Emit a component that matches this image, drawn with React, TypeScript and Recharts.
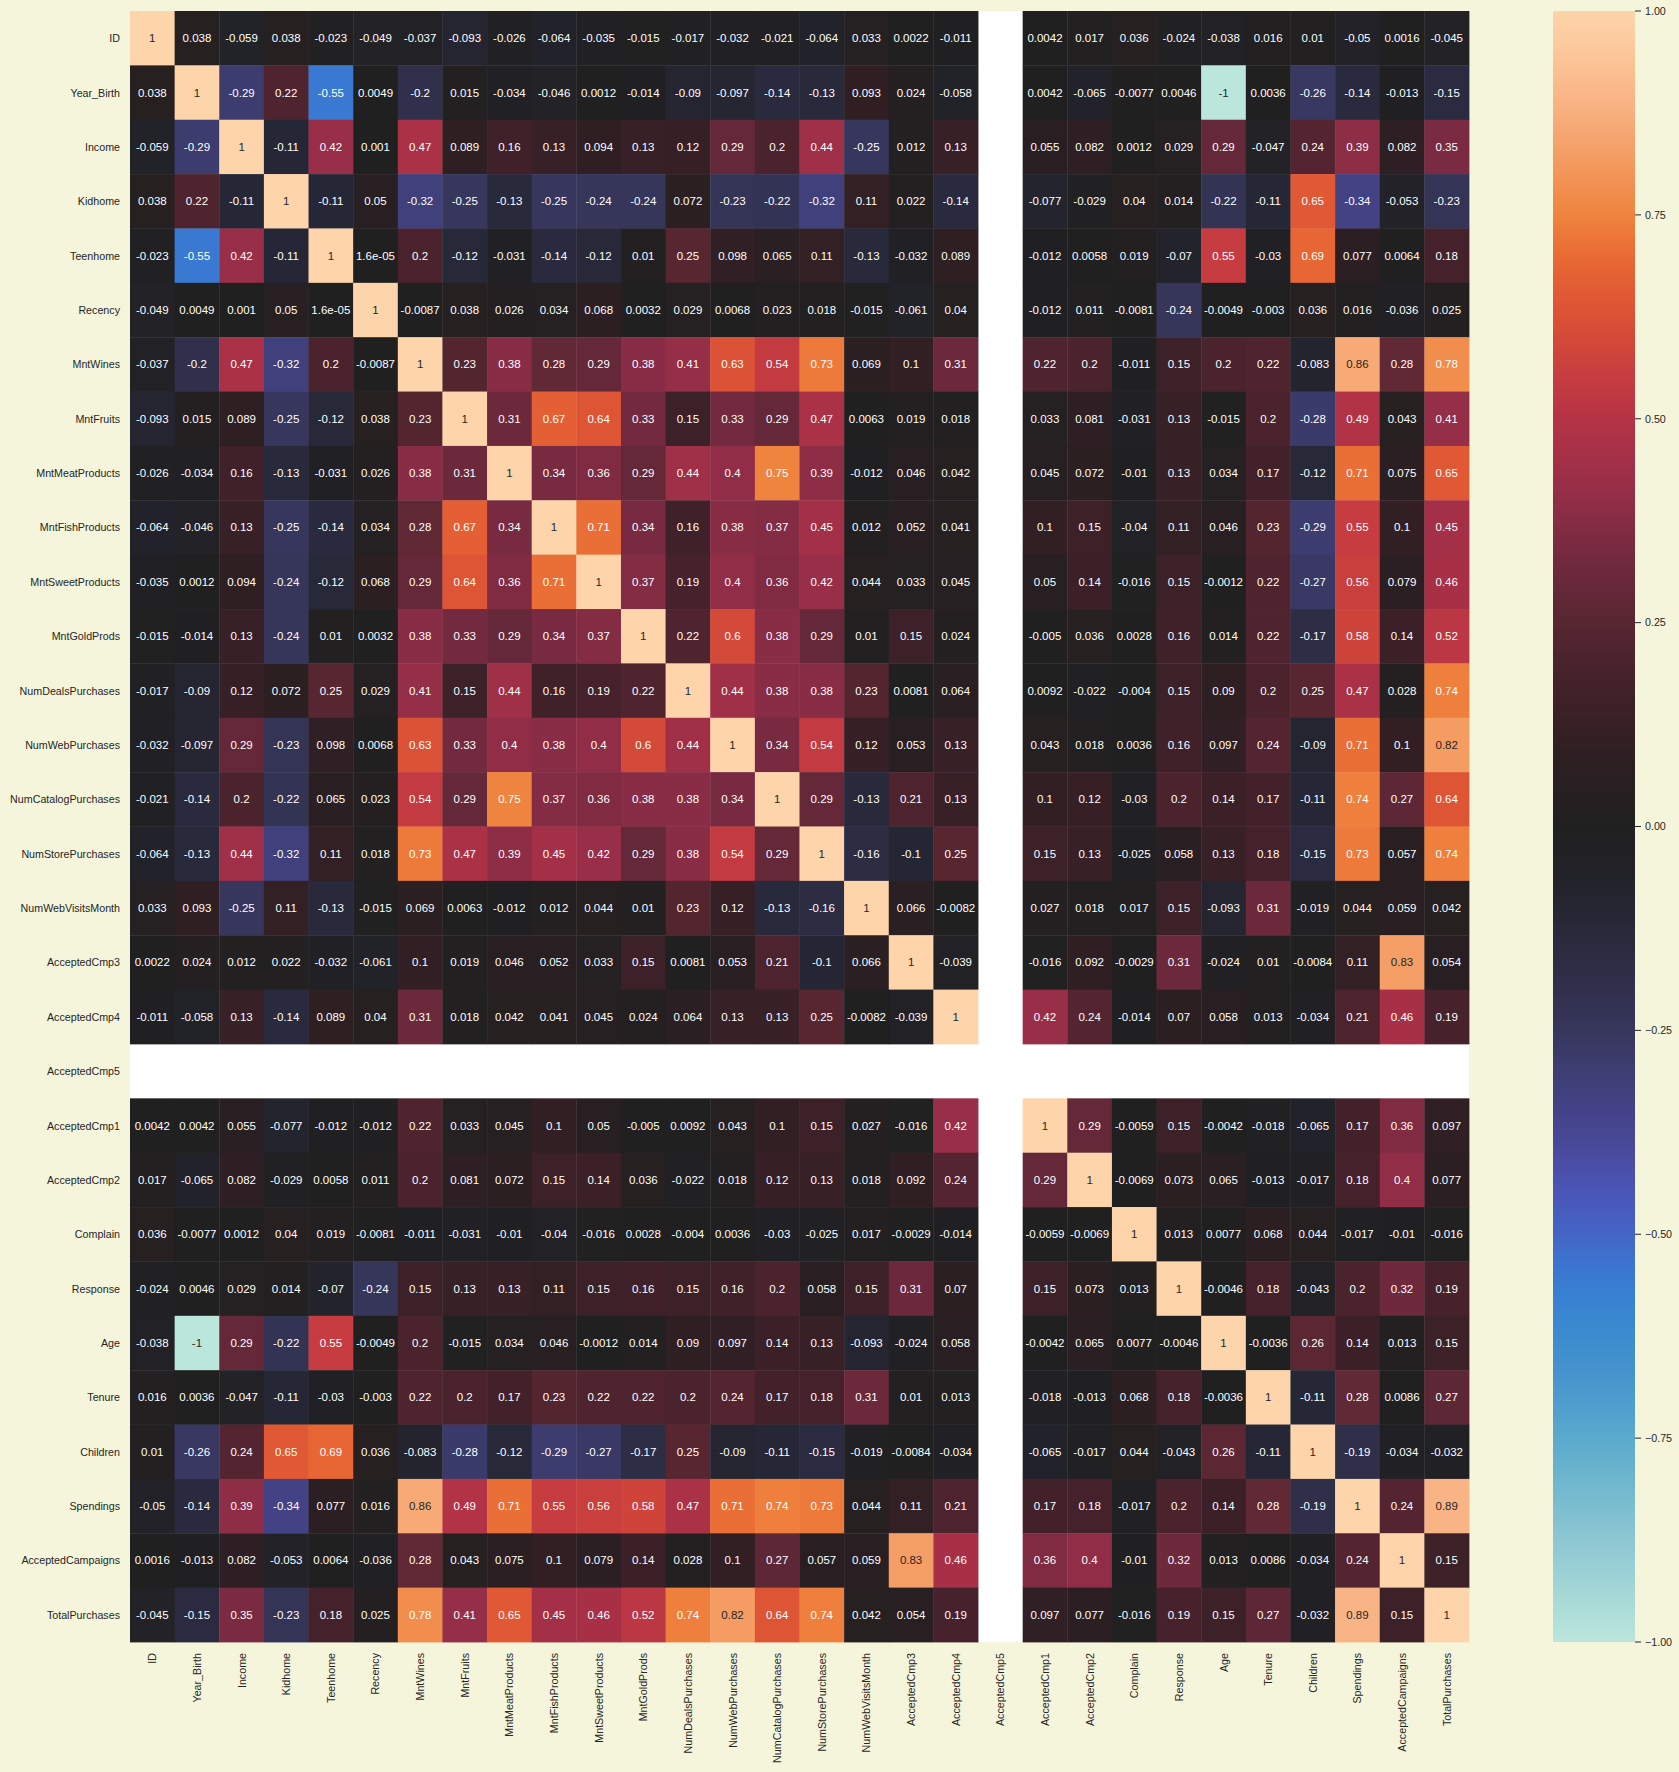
import { ScatterChart, Scatter, XAxis, YAxis, ReferenceArea, BarChart, Bar } from 'recharts'

const LABELS = [
  'ID', 'Year_Birth', 'Income', 'Kidhome', 'Teenhome', 'Recency', 'MntWines', 'MntFruits',
  'MntMeatProducts', 'MntFishProducts', 'MntSweetProducts', 'MntGoldProds', 'NumDealsPurchases',
  'NumWebPurchases', 'NumCatalogPurchases', 'NumStorePurchases', 'NumWebVisitsMonth',
  'AcceptedCmp3', 'AcceptedCmp4', 'AcceptedCmp5', 'AcceptedCmp1', 'AcceptedCmp2', 'Complain',
  'Response', 'Age', 'Tenure', 'Children', 'Spendings', 'AcceptedCampaigns', 'TotalPurchases',
]

// one row per variable, null = NaN (AcceptedCmp5 is constant)
const R_ID = [1, 0.038, -0.059, 0.038, -0.023, -0.049, -0.037, -0.093, -0.026, -0.064, -0.035, -0.015, -0.017, -0.032, -0.021, -0.064, 0.033, 0.0022, -0.011, null, 0.0042, 0.017, 0.036, -0.024, -0.038, 0.016, 0.01, -0.05, 0.0016, -0.045]
const R_YEAR_BIRTH = [0.038, 1, -0.29, 0.22, -0.55, 0.0049, -0.2, 0.015, -0.034, -0.046, 0.0012, -0.014, -0.09, -0.097, -0.14, -0.13, 0.093, 0.024, -0.058, null, 0.0042, -0.065, -0.0077, 0.0046, -1, 0.0036, -0.26, -0.14, -0.013, -0.15]
const R_INCOME = [-0.059, -0.29, 1, -0.11, 0.42, 0.001, 0.47, 0.089, 0.16, 0.13, 0.094, 0.13, 0.12, 0.29, 0.2, 0.44, -0.25, 0.012, 0.13, null, 0.055, 0.082, 0.0012, 0.029, 0.29, -0.047, 0.24, 0.39, 0.082, 0.35]
const R_KIDHOME = [0.038, 0.22, -0.11, 1, -0.11, 0.05, -0.32, -0.25, -0.13, -0.25, -0.24, -0.24, 0.072, -0.23, -0.22, -0.32, 0.11, 0.022, -0.14, null, -0.077, -0.029, 0.04, 0.014, -0.22, -0.11, 0.65, -0.34, -0.053, -0.23]
const R_TEENHOME = [-0.023, -0.55, 0.42, -0.11, 1, 1.6e-5, 0.2, -0.12, -0.031, -0.14, -0.12, 0.01, 0.25, 0.098, 0.065, 0.11, -0.13, -0.032, 0.089, null, -0.012, 0.0058, 0.019, -0.07, 0.55, -0.03, 0.69, 0.077, 0.0064, 0.18]
const R_RECENCY = [-0.049, 0.0049, 0.001, 0.05, 1.6e-5, 1, -0.0087, 0.038, 0.026, 0.034, 0.068, 0.0032, 0.029, 0.0068, 0.023, 0.018, -0.015, -0.061, 0.04, null, -0.012, 0.011, -0.0081, -0.24, -0.0049, -0.003, 0.036, 0.016, -0.036, 0.025]
const R_MNTWINES = [-0.037, -0.2, 0.47, -0.32, 0.2, -0.0087, 1, 0.23, 0.38, 0.28, 0.29, 0.38, 0.41, 0.63, 0.54, 0.73, 0.069, 0.1, 0.31, null, 0.22, 0.2, -0.011, 0.15, 0.2, 0.22, -0.083, 0.86, 0.28, 0.78]
const R_MNTFRUITS = [-0.093, 0.015, 0.089, -0.25, -0.12, 0.038, 0.23, 1, 0.31, 0.67, 0.64, 0.33, 0.15, 0.33, 0.29, 0.47, 0.0063, 0.019, 0.018, null, 0.033, 0.081, -0.031, 0.13, -0.015, 0.2, -0.28, 0.49, 0.043, 0.41]
const R_MNTMEAT = [-0.026, -0.034, 0.16, -0.13, -0.031, 0.026, 0.38, 0.31, 1, 0.34, 0.36, 0.29, 0.44, 0.4, 0.75, 0.39, -0.012, 0.046, 0.042, null, 0.045, 0.072, -0.01, 0.13, 0.034, 0.17, -0.12, 0.71, 0.075, 0.65]
const R_MNTFISH = [-0.064, -0.046, 0.13, -0.25, -0.14, 0.034, 0.28, 0.67, 0.34, 1, 0.71, 0.34, 0.16, 0.38, 0.37, 0.45, 0.012, 0.052, 0.041, null, 0.1, 0.15, -0.04, 0.11, 0.046, 0.23, -0.29, 0.55, 0.1, 0.45]
const R_MNTSWEET = [-0.035, 0.0012, 0.094, -0.24, -0.12, 0.068, 0.29, 0.64, 0.36, 0.71, 1, 0.37, 0.19, 0.4, 0.36, 0.42, 0.044, 0.033, 0.045, null, 0.05, 0.14, -0.016, 0.15, -0.0012, 0.22, -0.27, 0.56, 0.079, 0.46]
const R_MNTGOLD = [-0.015, -0.014, 0.13, -0.24, 0.01, 0.0032, 0.38, 0.33, 0.29, 0.34, 0.37, 1, 0.22, 0.6, 0.38, 0.29, 0.01, 0.15, 0.024, null, -0.005, 0.036, 0.0028, 0.16, 0.014, 0.22, -0.17, 0.58, 0.14, 0.52]
const R_NUMDEALS = [-0.017, -0.09, 0.12, 0.072, 0.25, 0.029, 0.41, 0.15, 0.44, 0.16, 0.19, 0.22, 1, 0.44, 0.38, 0.38, 0.23, 0.0081, 0.064, null, 0.0092, -0.022, -0.004, 0.15, 0.09, 0.2, 0.25, 0.47, 0.028, 0.74]
const R_NUMWEB = [-0.032, -0.097, 0.29, -0.23, 0.098, 0.0068, 0.63, 0.33, 0.4, 0.38, 0.4, 0.6, 0.44, 1, 0.34, 0.54, 0.12, 0.053, 0.13, null, 0.043, 0.018, 0.0036, 0.16, 0.097, 0.24, -0.09, 0.71, 0.1, 0.82]
const R_NUMCATALOG = [-0.021, -0.14, 0.2, -0.22, 0.065, 0.023, 0.54, 0.29, 0.75, 0.37, 0.36, 0.38, 0.38, 0.34, 1, 0.29, -0.13, 0.21, 0.13, null, 0.1, 0.12, -0.03, 0.2, 0.14, 0.17, -0.11, 0.74, 0.27, 0.64]
const R_NUMSTORE = [-0.064, -0.13, 0.44, -0.32, 0.11, 0.018, 0.73, 0.47, 0.39, 0.45, 0.42, 0.29, 0.38, 0.54, 0.29, 1, -0.16, -0.1, 0.25, null, 0.15, 0.13, -0.025, 0.058, 0.13, 0.18, -0.15, 0.73, 0.057, 0.74]
const R_NUMWEBVISITS = [0.033, 0.093, -0.25, 0.11, -0.13, -0.015, 0.069, 0.0063, -0.012, 0.012, 0.044, 0.01, 0.23, 0.12, -0.13, -0.16, 1, 0.066, -0.0082, null, 0.027, 0.018, 0.017, 0.15, -0.093, 0.31, -0.019, 0.044, 0.059, 0.042]
const R_CMP3 = [0.0022, 0.024, 0.012, 0.022, -0.032, -0.061, 0.1, 0.019, 0.046, 0.052, 0.033, 0.15, 0.0081, 0.053, 0.21, -0.1, 0.066, 1, -0.039, null, -0.016, 0.092, -0.0029, 0.31, -0.024, 0.01, -0.0084, 0.11, 0.83, 0.054]
const R_CMP4 = [-0.011, -0.058, 0.13, -0.14, 0.089, 0.04, 0.31, 0.018, 0.042, 0.041, 0.045, 0.024, 0.064, 0.13, 0.13, 0.25, -0.0082, -0.039, 1, null, 0.42, 0.24, -0.014, 0.07, 0.058, 0.013, -0.034, 0.21, 0.46, 0.19]
const R_CMP5 = LABELS.map(() => null)
const R_CMP1 = [0.0042, 0.0042, 0.055, -0.077, -0.012, -0.012, 0.22, 0.033, 0.045, 0.1, 0.05, -0.005, 0.0092, 0.043, 0.1, 0.15, 0.027, -0.016, 0.42, null, 1, 0.29, -0.0059, 0.15, -0.0042, -0.018, -0.065, 0.17, 0.36, 0.097]
const R_CMP2 = [0.017, -0.065, 0.082, -0.029, 0.0058, 0.011, 0.2, 0.081, 0.072, 0.15, 0.14, 0.036, -0.022, 0.018, 0.12, 0.13, 0.018, 0.092, 0.24, null, 0.29, 1, -0.0069, 0.073, 0.065, -0.013, -0.017, 0.18, 0.4, 0.077]
const R_COMPLAIN = [0.036, -0.0077, 0.0012, 0.04, 0.019, -0.0081, -0.011, -0.031, -0.01, -0.04, -0.016, 0.0028, -0.004, 0.0036, -0.03, -0.025, 0.017, -0.0029, -0.014, null, -0.0059, -0.0069, 1, 0.013, 0.0077, 0.068, 0.044, -0.017, -0.01, -0.016]
const R_RESPONSE = [-0.024, 0.0046, 0.029, 0.014, -0.07, -0.24, 0.15, 0.13, 0.13, 0.11, 0.15, 0.16, 0.15, 0.16, 0.2, 0.058, 0.15, 0.31, 0.07, null, 0.15, 0.073, 0.013, 1, -0.0046, 0.18, -0.043, 0.2, 0.32, 0.19]
const R_AGE = [-0.038, -1, 0.29, -0.22, 0.55, -0.0049, 0.2, -0.015, 0.034, 0.046, -0.0012, 0.014, 0.09, 0.097, 0.14, 0.13, -0.093, -0.024, 0.058, null, -0.0042, 0.065, 0.0077, -0.0046, 1, -0.0036, 0.26, 0.14, 0.013, 0.15]
const R_TENURE = [0.016, 0.0036, -0.047, -0.11, -0.03, -0.003, 0.22, 0.2, 0.17, 0.23, 0.22, 0.22, 0.2, 0.24, 0.17, 0.18, 0.31, 0.01, 0.013, null, -0.018, -0.013, 0.068, 0.18, -0.0036, 1, -0.11, 0.28, 0.0086, 0.27]
const R_CHILDREN = [0.01, -0.26, 0.24, 0.65, 0.69, 0.036, -0.083, -0.28, -0.12, -0.29, -0.27, -0.17, 0.25, -0.09, -0.11, -0.15, -0.019, -0.0084, -0.034, null, -0.065, -0.017, 0.044, -0.043, 0.26, -0.11, 1, -0.19, -0.034, -0.032]
const R_SPENDINGS = [-0.05, -0.14, 0.39, -0.34, 0.077, 0.016, 0.86, 0.49, 0.71, 0.55, 0.56, 0.58, 0.47, 0.71, 0.74, 0.73, 0.044, 0.11, 0.21, null, 0.17, 0.18, -0.017, 0.2, 0.14, 0.28, -0.19, 1, 0.24, 0.89]
const R_ACCEPTED = [0.0016, -0.013, 0.082, -0.053, 0.0064, -0.036, 0.28, 0.043, 0.075, 0.1, 0.079, 0.14, 0.028, 0.1, 0.27, 0.057, 0.059, 0.83, 0.46, null, 0.36, 0.4, -0.01, 0.32, 0.013, 0.0086, -0.034, 0.24, 1, 0.15]
const R_TOTALPURCH = [-0.045, -0.15, 0.35, -0.23, 0.18, 0.025, 0.78, 0.41, 0.65, 0.45, 0.46, 0.52, 0.74, 0.82, 0.64, 0.74, 0.042, 0.054, 0.19, null, 0.097, 0.077, -0.016, 0.19, 0.15, 0.27, -0.032, 0.89, 0.15, 1]

const ROWS: (number | null)[][] = [
  R_ID, R_YEAR_BIRTH, R_INCOME, R_KIDHOME, R_TEENHOME, R_RECENCY, R_MNTWINES, R_MNTFRUITS,
  R_MNTMEAT, R_MNTFISH, R_MNTSWEET, R_MNTGOLD, R_NUMDEALS, R_NUMWEB, R_NUMCATALOG, R_NUMSTORE,
  R_NUMWEBVISITS, R_CMP3, R_CMP4, R_CMP5, R_CMP1, R_CMP2, R_COMPLAIN, R_RESPONSE, R_AGE,
  R_TENURE, R_CHILDREN, R_SPENDINGS, R_ACCEPTED, R_TOTALPURCH,
]

const CB_TICKS = [-1, -0.75, -0.5, -0.25, 0, 0.25, 0.5, 0.75, 1]

// rough copy of seaborn's icefire, sampled from the colorbar
const ICEFIRE: [number, string][] = [
  [-1, '#bbe6dc'], [-0.95, '#a8dad7'], [-0.88, '#8fc8d3'], [-0.81, '#72b8ce'],
  [-0.75, '#5aaacd'], [-0.68, '#4796cd'], [-0.62, '#3b8ace'], [-0.58, '#3782d2'],
  [-0.54, '#3b76d0'], [-0.5, '#4465c6'], [-0.45, '#4a56b8'], [-0.41, '#4b4ca3'],
  [-0.36, '#45448d'], [-0.31, '#3f3f78'], [-0.25, '#37365d'], [-0.19, '#2f2f4a'],
  [-0.12, '#272838'], [-0.06, '#222229'], [0, '#202020'], [0.09, '#2e1f23'],
  [0.17, '#42212a'], [0.25, '#572631'], [0.29, '#642838'], [0.34, '#772a40'],
  [0.39, '#8d2d46'], [0.44, '#a02f48'], [0.5, '#b53346'], [0.55, '#c63c40'],
  [0.6, '#d44a38'], [0.65, '#e05834'], [0.7, '#e96a34'], [0.75, '#ef843f'],
  [0.82, '#f49c62'], [0.885, '#f9b283'], [0.95, '#fcc79a'], [1, '#fed4ab'],
]

const W = 1679
const H = 1772
const PLOT = { left: 130, top: 11, right: 1469, bottom: 1642 }
const CELL_W = (PLOT.right - PLOT.left) / LABELS.length
const CELL_H = (PLOT.bottom - PLOT.top) / LABELS.length
const CB_PAD = 12
const FONT = '"Liberation Sans", Arial, sans-serif'
const INK = '#262626'

function hexToRgb(h: string) {
  return [1, 3, 5].map((i) => parseInt(h.slice(i, i + 2), 16))
}

function cmap(v: number) {
  for (let k = 1; k < ICEFIRE.length; k++) {
    const [v1, c1] = ICEFIRE[k]
    if (v <= v1) {
      const [v0, c0] = ICEFIRE[k - 1]
      const t = (v - v0) / (v1 - v0)
      const a = hexToRgb(c0)
      const b = hexToRgb(c1)
      return a.map((x, i) => Math.round(x + (b[i] - x) * t))
    }
  }
  return hexToRgb(ICEFIRE[ICEFIRE.length - 1][1])
}

function luminance(rgb: number[]) {
  const lin = rgb.map((c) => {
    const s = c / 255
    return s <= 0.03928 ? s / 12.92 : Math.pow((s + 0.055) / 1.055, 2.4)
  })
  return 0.2126 * lin[0] + 0.7152 * lin[1] + 0.0722 * lin[2]
}

// python's '.2g'
function fmt2g(v: number) {
  if (v === 0) return '0'
  const e = Math.floor(Math.log10(Math.abs(v)))
  if (e < -4 || e >= 2) {
    const [m, ex] = v.toExponential(1).split('e')
    const n = parseInt(ex)
    return `${m.replace(/\.0$/, '')}e${n < 0 ? '-' : '+'}${String(Math.abs(n)).padStart(2, '0')}`
  }
  return String(parseFloat(v.toPrecision(2)))
}

const cells = ROWS.flatMap((row, i) =>
  row.flatMap((v, j) => (v === null ? [] : [{ x: j + 0.5, y: i + 0.5, v }]))
)
const TICK_POS = LABELS.map((_, i) => i + 0.5)

function HeatCell(props: any) {
  const { cx, cy, payload } = props
  const rgb = cmap(payload.v)
  const txt = luminance(rgb) > 0.408 ? INK : '#ffffff'
  return (
    <g>
      <rect
        x={cx - CELL_W / 2}
        y={cy - CELL_H / 2}
        width={CELL_W + 0.4}
        height={CELL_H + 0.4}
        fill={`rgb(${rgb.join(',')})`}
      />
      <text
        x={cx}
        y={cy}
        textAnchor="middle"
        dominantBaseline="central"
        fill={txt}
        fontSize={11.5}
        fontFamily={FONT}
      >
        {fmt2g(payload.v)}
      </text>
    </g>
  )
}

function XTick(props: any) {
  const { x, y, payload } = props
  return (
    <text
      transform={`translate(${x},${y + 11}) rotate(-90)`}
      textAnchor="end"
      dominantBaseline="central"
      fill={INK}
      fontSize={10.7}
      fontFamily={FONT}
    >
      {LABELS[Math.floor(payload.value)]}
    </text>
  )
}

function YTick(props: any) {
  const { x, y, payload } = props
  return (
    <text
      x={x - 10}
      y={y}
      textAnchor="end"
      dominantBaseline="central"
      fill={INK}
      fontSize={10.7}
      fontFamily={FONT}
    >
      {LABELS[Math.floor(payload.value)]}
    </text>
  )
}

const cbData = [{ name: 'cb', range: [-1, 1] }]

export default function App() {
  return (
    <div style={{ position: 'absolute', left: 0, top: 0, width: W, height: H, background: '#f5f5dc' }}>
      <ScatterChart
        width={W}
        height={H}
        margin={{ top: PLOT.top, right: W - PLOT.right, bottom: 0, left: 0 }}
      >
        <XAxis
          type="number"
          dataKey="x"
          domain={[0, LABELS.length]}
          ticks={TICK_POS}
          interval={0}
          height={H - PLOT.bottom}
          axisLine={false}
          tickLine={false}
          tickSize={0}
          tickMargin={0}
          tick={<XTick />}
        />
        <YAxis
          type="number"
          dataKey="y"
          reversed
          domain={[0, LABELS.length]}
          ticks={TICK_POS}
          interval={0}
          width={PLOT.left}
          axisLine={false}
          tickLine={false}
          tickSize={0}
          tickMargin={0}
          tick={<YTick />}
        />
        <ReferenceArea x1={0} x2={LABELS.length} y1={0} y2={LABELS.length} fill="#ffffff" fillOpacity={1} stroke="none" />
        <Scatter data={cells} shape={<HeatCell />} isAnimationActive={false} />
      </ScatterChart>

      {/* colorbar */}
      <div style={{ position: 'absolute', left: 1553, top: PLOT.top - CB_PAD }}>
        <BarChart
          width={142}
          height={PLOT.bottom - PLOT.top + 2 * CB_PAD}
          data={cbData}
          margin={{ top: CB_PAD, right: 0, bottom: CB_PAD, left: 0 }}
          barCategoryGap={0}
        >
          <defs>
            <linearGradient id="icefireGrad" x1="0" y1="0" x2="0" y2="1">
              {ICEFIRE.slice().reverse().map(([v, c]) => (
                <stop key={v} offset={(1 - v) / 2} stopColor={c} />
              ))}
            </linearGradient>
          </defs>
          <XAxis dataKey="name" hide />
          <YAxis
            orientation="right"
            type="number"
            domain={[-1, 1]}
            ticks={CB_TICKS}
            interval={0}
            width={60}
            axisLine={false}
            tickSize={6}
            tickMargin={4}
            tickLine={{ stroke: INK }}
            tick={{ fill: INK, fontSize: 10.7, fontFamily: FONT }}
            tickFormatter={(v: number) => (v < 0 ? '\u2212' : '') + Math.abs(v).toFixed(2)}
          />
          <Bar dataKey="range" fill="url(#icefireGrad)" isAnimationActive={false} />
        </BarChart>
      </div>
    </div>
  )
}
